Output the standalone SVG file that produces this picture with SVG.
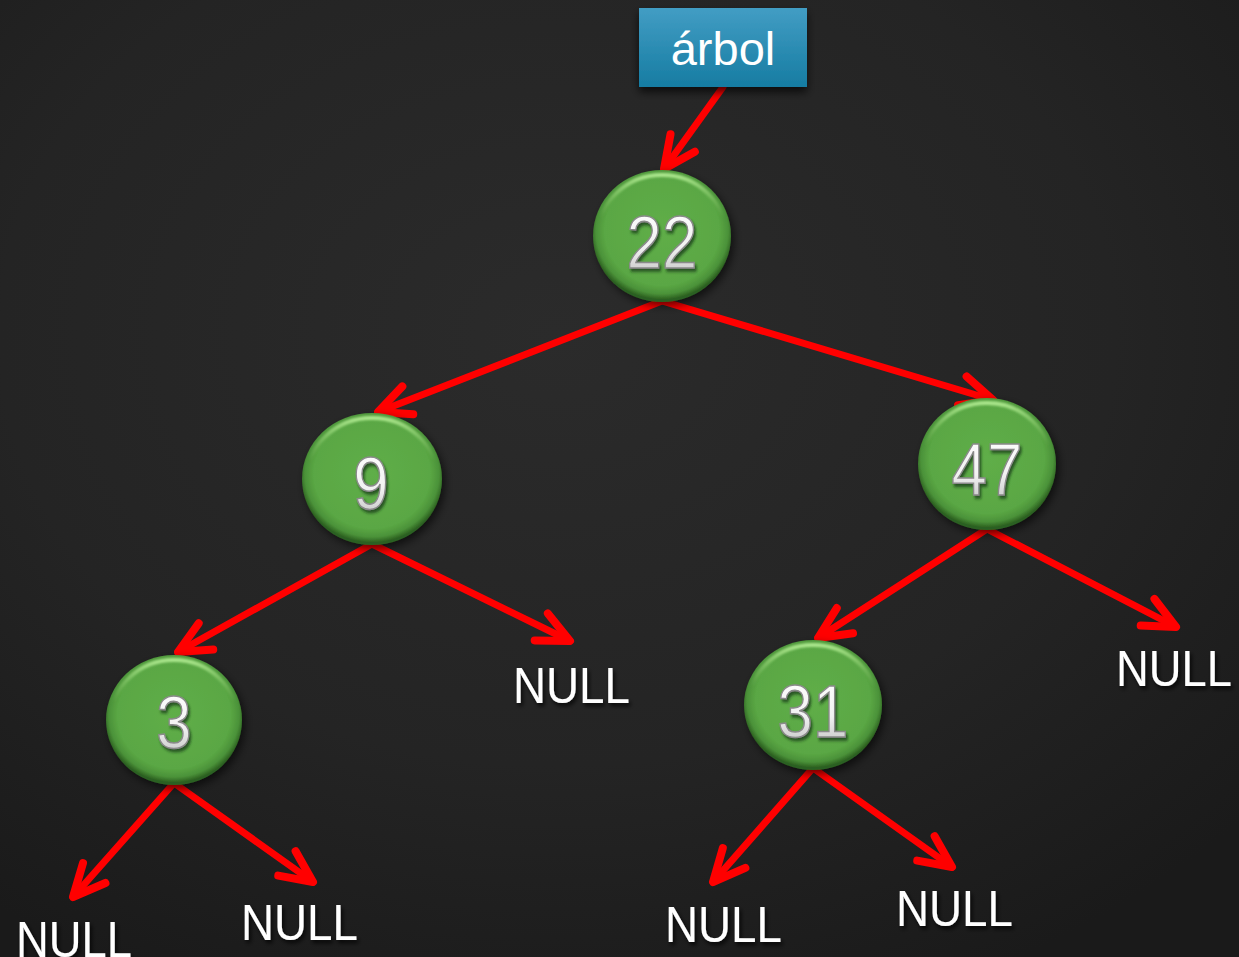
<svg xmlns="http://www.w3.org/2000/svg" width="1239" height="957" viewBox="0 0 1239 957">
  <defs>
    <radialGradient id="bg" cx="45%" cy="35%" r="75%">
      <stop offset="0" stop-color="#2b2b2b"/>
      <stop offset="0.6" stop-color="#242424"/>
      <stop offset="1" stop-color="#1a1a1a"/>
    </radialGradient>
    <linearGradient id="boxFill" x1="0" y1="0" x2="0" y2="1">
      <stop offset="0" stop-color="#429dc4"/>
      <stop offset="1" stop-color="#167ca2"/>
    </linearGradient>
    <radialGradient id="ball" cx="50%" cy="46%" r="52%">
      <stop offset="0" stop-color="#5fae48"/>
      <stop offset="0.8" stop-color="#5aa744"/>
      <stop offset="0.92" stop-color="#4b9239"/>
      <stop offset="1" stop-color="#2c6120"/>
    </radialGradient>
    <linearGradient id="rim" x1="0" y1="0" x2="0" y2="1">
      <stop offset="0" stop-color="#b4ee95" stop-opacity="0.9"/>
      <stop offset="0.35" stop-color="#8fd070" stop-opacity="0"/>
      <stop offset="1" stop-color="#8fd070" stop-opacity="0"/>
    </linearGradient>
    <linearGradient id="silver" x1="0" y1="0" x2="0" y2="1">
      <stop offset="0" stop-color="#ffffff"/>
      <stop offset="0.55" stop-color="#f2f2f2"/>
      <stop offset="1" stop-color="#b9b9b9"/>
    </linearGradient>
    <filter id="ballShadow" x="-20%" y="-20%" width="150%" height="150%">
      <feDropShadow dx="3" dy="4" stdDeviation="4" flood-color="#000" flood-opacity="0.6"/>
    </filter>
    <filter id="soft" x="-10%" y="-10%" width="120%" height="120%">
      <feGaussianBlur stdDeviation="1.2"/>
    </filter>
    <filter id="digitShadow" x="-20%" y="-20%" width="150%" height="150%">
      <feDropShadow dx="2" dy="3" stdDeviation="1.5" flood-color="#1c3d12" flood-opacity="0.8"/>
    </filter>
    <filter id="textShadow" x="-5%" y="-20%" width="110%" height="160%">
      <feDropShadow dx="2" dy="3" stdDeviation="2" flood-color="#000" flood-opacity="0.8"/>
    </filter>
    <filter id="boxShadow" x="-20%" y="-20%" width="140%" height="160%">
      <feDropShadow dx="0" dy="5" stdDeviation="4" flood-color="#000" flood-opacity="0.7"/>
    </filter>
    <marker id="head" markerUnits="userSpaceOnUse" markerWidth="80" markerHeight="80"
            viewBox="-40 -40 80 80" refX="0" refY="0" orient="auto" overflow="visible">
      <path d="M -32 -15 L 0 0 L -32 15" fill="none" stroke="#ff0000" stroke-width="8"
            stroke-linecap="round" stroke-linejoin="round"/>
    </marker>
    <style>
      .edge { fill: none; stroke: #ff0000; stroke-width: 7; stroke-linecap: round; marker-end: url(#head); }
      .ball { fill: url(#ball); }
      .rim { fill: none; stroke: url(#rim); stroke-width: 4; }
      .num { font-family: "Liberation Sans", "DejaVu Sans", sans-serif; font-size: 74px; text-anchor: middle;
             fill: url(#silver); stroke: #8a8a8a; stroke-width: 1.5; }
      .null { font-family: "Liberation Sans", "DejaVu Sans", sans-serif; font-size: 50px; fill: #ffffff; }
      .label { font-family: "Liberation Sans", "DejaVu Sans", sans-serif; font-size: 47px; fill: #ffffff; text-anchor: middle; }
    </style>
  </defs>

  <!-- board background -->
  <rect x="0" y="0" width="1239" height="957" fill="url(#bg)"/>

  <!-- connectors -->
  <g id="connectors">
    <path class="edge" d="M 723 87 L 664 169"/>
    <path class="edge" d="M 662 301 L 378 412"/>
    <path class="edge" d="M 662 301 L 993 400"/>
    <path class="edge" d="M 372 544 L 178 652"/>
    <path class="edge" d="M 372 544 L 570 641"/>
    <path class="edge" d="M 987 529 L 818 638"/>
    <path class="edge" d="M 987 529 L 1176 627"/>
    <path class="edge" d="M 174 783 L 73 897"/>
    <path class="edge" d="M 174 783 L 313 882"/>
    <path class="edge" d="M 813 768 L 713 882"/>
    <path class="edge" d="M 813 768 L 952 867"/>
  </g>

  <!-- root pointer label -->
  <g id="arbol">
    <rect x="639" y="8" width="168" height="79" fill="url(#boxFill)" filter="url(#boxShadow)"/>
    <text class="label" x="723" y="65">árbol</text>
  </g>

  <!-- tree nodes -->
  <g id="n22">
    <ellipse class="ball" cx="662" cy="236" rx="69" ry="66" filter="url(#ballShadow)"/>
    <ellipse class="rim" cx="662" cy="236" rx="64" ry="61" filter="url(#soft)"/>
    <text class="num" transform="translate(662 268) scale(0.86 1)" x="0" y="0" filter="url(#digitShadow)">22</text>
  </g>
  <g id="n9">
    <ellipse class="ball" cx="372" cy="479" rx="70" ry="66" filter="url(#ballShadow)"/>
    <ellipse class="rim" cx="372" cy="479" rx="65" ry="61" filter="url(#soft)"/>
    <text class="num" transform="translate(371 509) scale(0.86 1)" x="0" y="0" filter="url(#digitShadow)">9</text>
  </g>
  <g id="n47">
    <ellipse class="ball" cx="987" cy="464" rx="69" ry="66" filter="url(#ballShadow)"/>
    <ellipse class="rim" cx="987" cy="464" rx="64" ry="61" filter="url(#soft)"/>
    <text class="num" transform="translate(987 495) scale(0.86 1)" x="0" y="0" filter="url(#digitShadow)">47</text>
  </g>
  <g id="n3">
    <ellipse class="ball" cx="174" cy="720" rx="68" ry="65" filter="url(#ballShadow)"/>
    <ellipse class="rim" cx="174" cy="720" rx="63" ry="60" filter="url(#soft)"/>
    <text class="num" transform="translate(174 748) scale(0.86 1)" x="0" y="0" filter="url(#digitShadow)">3</text>
  </g>
  <g id="n31">
    <ellipse class="ball" cx="813" cy="705" rx="69" ry="65" filter="url(#ballShadow)"/>
    <ellipse class="rim" cx="813" cy="705" rx="64" ry="60" filter="url(#soft)"/>
    <text class="num" transform="translate(813 737) scale(0.86 1)" x="0" y="0" filter="url(#digitShadow)">31</text>
  </g>

  <!-- empty subtrees -->
  <g id="null9r"><text class="null" x="513" y="703" textLength="117" lengthAdjust="spacingAndGlyphs" filter="url(#textShadow)">NULL</text></g>
  <g id="null47r"><text class="null" x="1116" y="686" textLength="116" lengthAdjust="spacingAndGlyphs" filter="url(#textShadow)">NULL</text></g>
  <g id="null3l"><text class="null" x="16" y="957" textLength="116" lengthAdjust="spacingAndGlyphs" filter="url(#textShadow)">NULL</text></g>
  <g id="null3r"><text class="null" x="241" y="940" textLength="117" lengthAdjust="spacingAndGlyphs" filter="url(#textShadow)">NULL</text></g>
  <g id="null31l"><text class="null" x="665" y="942" textLength="117" lengthAdjust="spacingAndGlyphs" filter="url(#textShadow)">NULL</text></g>
  <g id="null31r"><text class="null" x="896" y="926" textLength="117" lengthAdjust="spacingAndGlyphs" filter="url(#textShadow)">NULL</text></g>
</svg>
